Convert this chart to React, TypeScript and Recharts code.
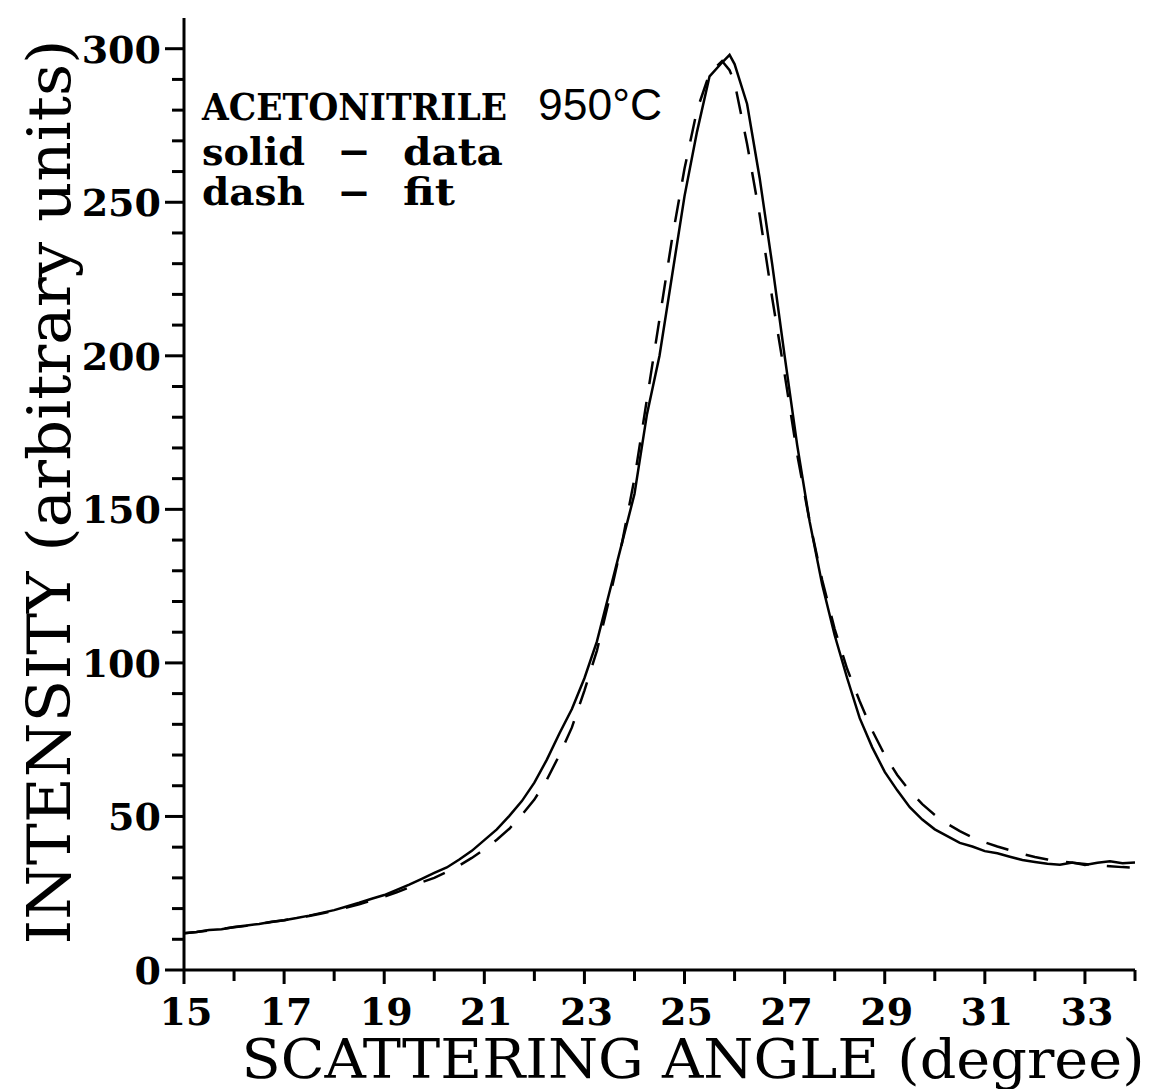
import React from 'react';
import { LineChart, Line, XAxis, YAxis } from 'recharts';

// scattering angle in degrees
const angle = [
    15, 15.25, 15.5, 15.75, 16, 16.25, 16.5, 16.75, 17, 17.25, 17.5, 17.75,
    18, 18.25, 18.5, 18.75, 19, 19.25, 19.5, 19.75, 20, 20.25, 20.5, 20.75,
    21, 21.25, 21.5, 21.75, 22, 22.25, 22.5, 22.75, 23, 23.25, 23.5, 23.75,
    24, 24.25, 24.5, 24.75, 25, 25.25, 25.5, 25.75, 25.9, 26, 26.25, 26.5, 26.75,
    27, 27.25, 27.5, 27.75, 28, 28.25, 28.5, 28.75, 29, 29.25, 29.5, 29.75,
    30, 30.25, 30.5, 30.75, 31, 31.25, 31.5, 31.75, 32, 32.25, 32.5, 32.75,
    33, 33.25, 33.5, 33.75, 34,
];

// solid - measured intensity
const measured = [
    12.0, 12.4, 13.0, 13.3, 14.0, 14.5, 15.0, 15.7, 16.2, 16.9, 17.7, 18.6,
    19.5, 20.7, 21.9, 23.2, 24.4, 26.1, 27.8, 29.7, 31.6, 33.4, 36.0, 38.8,
    42.3, 45.8, 50.2, 55.0, 61.0, 68.5, 77.0, 85.0, 95.0, 107, 123, 139,
    155, 181, 200, 226, 252, 273, 291, 295.5, 298, 295, 282, 258, 230,
    200, 171, 146, 125.5, 109, 95, 82, 72.5, 64.5, 58.5, 53.0, 49.0,
    45.8, 43.6, 41.4, 40.2, 38.7, 38.0, 36.9, 35.8, 35.2, 34.6, 34.3, 35.0,
    34.2, 34.9, 35.4, 34.8, 35.0,
];

// dash - fit
const fitted = [
    12.0, 12.4, 12.9, 13.4, 13.9, 14.4, 15.0, 15.6, 16.2, 16.9, 17.6, 18.4,
    19.3, 20.3, 21.4, 22.6, 23.9, 25.3, 26.9, 28.6, 30.0, 31.9, 34.0, 36.5,
    39.3, 42.4, 46.0, 50.5, 55.5, 62.0, 70.0, 79.0, 91.0, 104, 121, 139,
    160, 186, 212, 238, 261, 280, 292, 296, 293, 289, 269, 246, 219,
    194, 168, 146, 127, 111, 98, 87.5, 78, 70, 63.5, 58.3, 54.0,
    50.5, 47.6, 45.2, 43.2, 41.6, 40.2, 39.0, 37.8, 36.8, 36.0, 35.4, 34.9,
    34.5, 34.1, 33.8, 33.5, 33.3,
];

const xTicks = [15, 16, 17, 18, 19, 20, 21, 22, 23, 24, 25, 26, 27, 28, 29, 30, 31, 32, 33, 34];
const yTicks = [0, 10, 20, 30, 40, 50, 60, 70, 80, 90, 100, 110, 120, 130, 140, 150,
    160, 170, 180, 190, 200, 210, 220, 230, 240, 250, 260, 270, 280, 290, 300];

const rows = angle.map((a, i) => ({ angle: a, data: measured[i], fit: fitted[i] }));

const SERIF = '"DejaVu Serif", serif';

const LeftTick = (props: any) => {
    const { x, y, payload } = props;
    const major = payload.value % 50 === 0;
    return (
        <g>
            <line x1={x - (major ? 19 : 12)} x2={x} y1={y} y2={y} stroke="#000" strokeWidth={3} />
            {major && (
                <text x={x - 23} y={y + 14} textAnchor="end" fontFamily={SERIF} fontWeight="bold" fontSize={38} fill="#000">
                    {payload.value}
                </text>
            )}
        </g>
    );
};

const BottomTick = (props: any) => {
    const { x, y, payload } = props;
    const major = payload.value % 2 === 1;
    return (
        <g>
            <line x1={x} x2={x} y1={y} y2={y + (major ? 14 : 11)} stroke="#000" strokeWidth={3} />
            {major && (
                <text x={x + 2} y={y + 55} textAnchor="middle" fontFamily={SERIF} fontWeight="bold" fontSize={38} fill="#000">
                    {payload.value}
                </text>
            )}
        </g>
    );
};

const TopTick = (props: any) => {
    const { x, y } = props;
    return <line x1={x} x2={x} y1={y} y2={y + 12} stroke="#000" strokeWidth={3} />;
};

const RightTick = (props: any) => {
    const { x, y } = props;
    return <line x1={x - 15} x2={x} y1={y} y2={y} stroke="#000" strokeWidth={3} />;
};

export default function App() {
    const axisLine = { stroke: '#000', strokeWidth: 3 };
    return (
        <div style={{ position: 'absolute', left: 0, top: 0, width: 1160, height: 1089, background: '#fff' }}>
            <LineChart width={1160} height={1089} data={rows} margin={{ top: 18, right: 25, bottom: 0, left: 0 }}>
                <XAxis dataKey="angle" type="number" domain={[15, 34]} ticks={xTicks} interval={0}
                    height={119} tickSize={0} tickMargin={0} tickLine={false} axisLine={axisLine} tick={<BottomTick />} />
                <XAxis xAxisId="top" dataKey="angle" type="number" orientation="top" domain={[15, 34]} ticks={xTicks} interval={0}
                    height={0} tickSize={0} tickMargin={0} tickLine={false} axisLine={axisLine} tick={<TopTick />} />
                <YAxis type="number" domain={[0, 310]} ticks={yTicks} interval={0} allowDataOverflow
                    width={184} tickSize={0} tickMargin={0} tickLine={false} axisLine={axisLine} tick={<LeftTick />} />
                <YAxis yAxisId="right" orientation="right" type="number" domain={[0, 310]} ticks={yTicks.slice(1)} interval={0}
                    width={0} tickSize={0} tickMargin={0} tickLine={false} axisLine={axisLine} tick={<RightTick />} />
                <Line dataKey="fit" type="linear" stroke="#000" strokeWidth={2.5} strokeDasharray="23 18" dot={false} isAnimationActive={false} />
                <Line dataKey="data" type="linear" stroke="#000" strokeWidth={2.5} dot={false} isAnimationActive={false} />
            </LineChart>
            <svg width={1160} height={1089} style={{ position: 'absolute', left: 0, top: 0, pointerEvents: 'none' }}>
                <text x={202} y={120} fontFamily={SERIF} fontWeight="bold" fontSize={37} textLength={305} lengthAdjust="spacingAndGlyphs" fill="#000">ACETONITRILE</text>
                <text x={538} y={120} fontFamily='"Liberation Sans", Arial, sans-serif' fontSize={44} textLength={124} lengthAdjust="spacingAndGlyphs" fill="#000">950°C</text>
                <text x={202} y={165} fontFamily={SERIF} fontWeight="bold" fontSize={38} textLength={103} lengthAdjust="spacingAndGlyphs" fill="#000">solid</text>
                <text x={340} y={163} fontFamily={SERIF} fontWeight="bold" fontSize={38} textLength={28} lengthAdjust="spacingAndGlyphs" fill="#000">—</text>
                <text x={403} y={165} fontFamily={SERIF} fontWeight="bold" fontSize={38} textLength={100} lengthAdjust="spacingAndGlyphs" fill="#000">data</text>
                <text x={202} y={205} fontFamily={SERIF} fontWeight="bold" fontSize={38} textLength={103} lengthAdjust="spacingAndGlyphs" fill="#000">dash</text>
                <text x={340} y={204} fontFamily={SERIF} fontWeight="bold" fontSize={38} textLength={28} lengthAdjust="spacingAndGlyphs" fill="#000">—</text>
                <text x={403} y={205} fontFamily={SERIF} fontWeight="bold" fontSize={38} textLength={52} lengthAdjust="spacingAndGlyphs" fill="#000">fit</text>
                <text x={693} y={1078} textAnchor="middle" fontFamily={SERIF} fontSize={55} textLength={903} lengthAdjust="spacingAndGlyphs" fill="#000">SCATTERING ANGLE (degree)</text>
                <text transform="translate(70,492) rotate(-90)" textAnchor="middle" fontFamily={SERIF} fontSize={60} textLength={905} lengthAdjust="spacingAndGlyphs" fill="#000">INTENSITY (arbitrary units)</text>
            </svg>
        </div>
    );
}
